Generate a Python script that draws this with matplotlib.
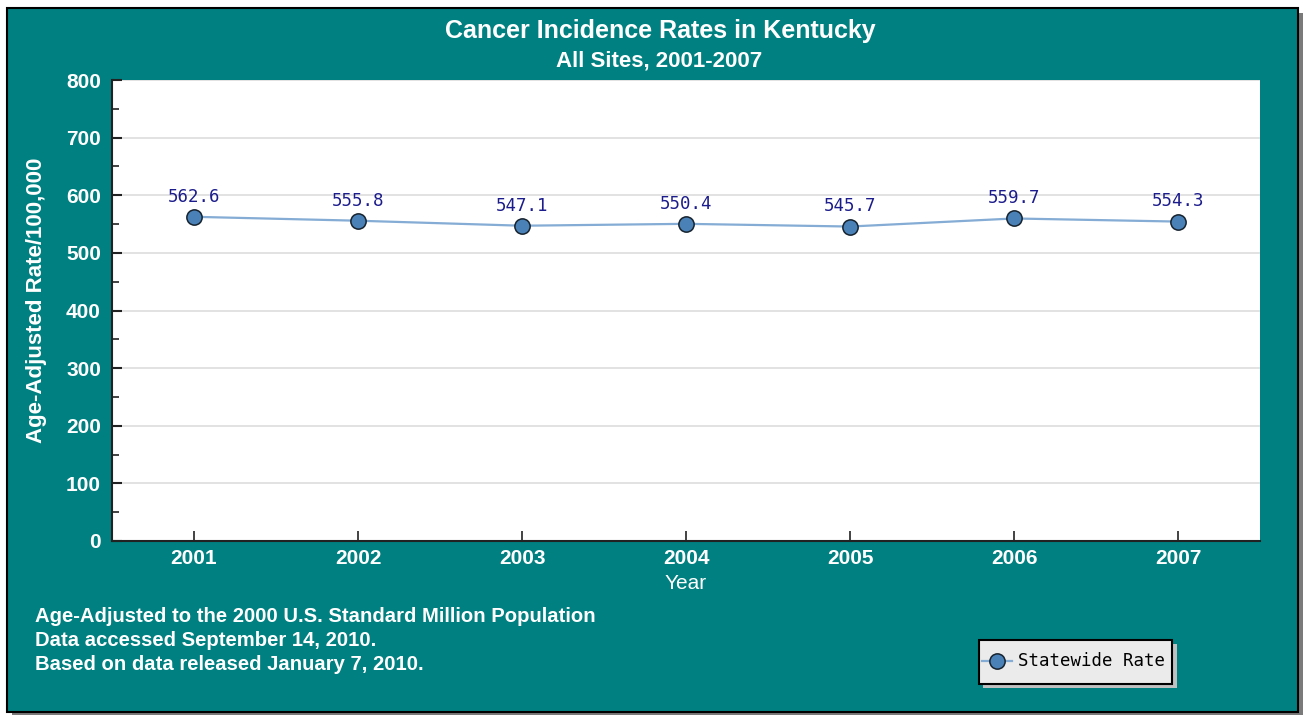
import matplotlib.pyplot as plt
from matplotlib.patches import Rectangle
from matplotlib.lines import Line2D
from matplotlib.ticker import MultipleLocator

years = ["2001", "2002", "2003", "2004", "2005", "2006", "2007"]
rates = [562.6, 555.8, 547.1, 550.4, 545.7, 559.7, 554.3]
yticks = [0, 100, 200, 300, 400, 500, 600, 700, 800]
notes = [
    "Age-Adjusted to the 2000 U.S. Standard Million Population",
    "Data accessed September 14, 2010.",
    "Based on data released January 7, 2010.",
]

W, H = 1307, 715
TEAL = "#008080"
plt.rcParams["font.family"] = ["Liberation Sans", "DejaVu Sans"]

fig = plt.figure(figsize=(W / 100, H / 100), dpi=100)
fig.patch.set_facecolor("white")


def fx(px):
    return px / W


def fy(py):
    return 1 - py / H


# panel with drop shadow, drawn beneath the axes
fig.add_artist(Rectangle((fx(12), fy(717)), fx(1291), 704 / H,
                         transform=fig.transFigure, facecolor="#7a7a7a",
                         edgecolor="none", zorder=-3))
fig.add_artist(Rectangle((fx(7), fy(712)), fx(1291), 704 / H,
                         transform=fig.transFigure, facecolor=TEAL,
                         edgecolor="black", linewidth=1.5, zorder=-2))

ax = fig.add_axes([fx(112), fy(541), fx(1260 - 112), (541 - 80) / H])
ax.set_facecolor("white")
x = list(range(len(years)))
ax.plot(x, rates, color="#84acd4", linewidth=1.6, zorder=3,
        marker="o", markersize=11, markerfacecolor="#4a82b8",
        markeredgecolor="#16222e", markeredgewidth=1.1, clip_on=False)
for xi, r in zip(x, rates):
    ax.annotate(f"{r:.1f}", (xi, r), xytext=(0, 8), textcoords="offset points",
                ha="center", va="bottom", color="#1c1c8c", fontsize=12.5,
                family="DejaVu Sans Mono")

ax.set_xlim(-0.5, len(years) - 0.5)
ax.set_ylim(0, 800)
ax.set_xticks(x)
ax.set_xticklabels(years)
ax.set_yticks(yticks)
ax.yaxis.set_minor_locator(MultipleLocator(50))
ax.grid(axis="y", color="#dddddd", linewidth=1.2, zorder=0)
ax.set_axisbelow(True)
for s in ("top", "right"):
    ax.spines[s].set_visible(False)
for s in ("left", "bottom"):
    ax.spines[s].set_color("#222222")
    ax.spines[s].set_linewidth(1.5)
ax.tick_params(axis="x", direction="in", length=7, width=1.2, color="#222222",
               labelcolor="white", labelsize=15, pad=6)
ax.tick_params(axis="y", which="major", direction="in", length=7, width=1.5,
               color="#222222", labelcolor="white", labelsize=15, pad=8)
ax.tick_params(axis="y", which="minor", direction="in", length=5, width=1.2,
               color="#222222")
for lbl in ax.get_xticklabels() + ax.get_yticklabels():
    lbl.set_fontweight("bold")

ax.set_xlabel("Year", color="white", fontsize=15, labelpad=4)
fig.text(fx(37), fy(300), "Age-Adjusted Rate/100,000", rotation=90,
         color="white", fontsize=16, fontweight="bold", ha="center", va="center")

fig.text(fx(660), fy(31), "Cancer Incidence Rates in Kentucky", color="white",
         fontsize=18, fontweight="bold", ha="center", va="center")
fig.text(fx(659), fy(61), "All Sites, 2001-2007", color="white",
         fontsize=16, fontweight="bold", ha="center", va="center")

for i, line in enumerate(notes):
    fig.text(fx(35), fy(616 + 24.5 * i), line, color="white", fontsize=14.6,
             fontweight="bold", ha="left", va="center")

# legend box with shadow
fig.add_artist(Rectangle((fx(983), fy(688)), fx(194), 44 / H,
                         transform=fig.transFigure, facecolor="#c0c0c0",
                         edgecolor="none", zorder=2))
fig.add_artist(Rectangle((fx(979), fy(684)), fx(193), 44 / H,
                         transform=fig.transFigure, facecolor="#ebebeb",
                         edgecolor="black", linewidth=1.5, zorder=3))
fig.add_artist(Line2D([fx(982), fx(1012)], [fy(661), fy(661)],
                      transform=fig.transFigure, color="#84acd4", linewidth=1.6,
                      zorder=4))
fig.add_artist(Line2D([fx(997)], [fy(661)], transform=fig.transFigure,
                      marker="o", markersize=11, markerfacecolor="#4a82b8",
                      markeredgecolor="#16222e", markeredgewidth=1.1,
                      linestyle="none", zorder=5))
fig.text(fx(1018), fy(661), "Statewide Rate", color="black", fontsize=12.5,
         family="DejaVu Sans Mono", ha="left", va="center", zorder=6)

fig.savefig("out.png", dpi=100)
